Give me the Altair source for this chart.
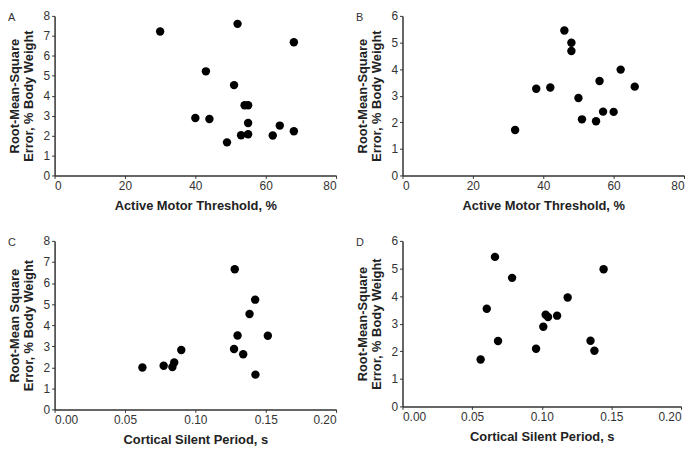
import altair as alt
import pandas as pd

# Panel A: Active Motor Threshold vs RMSE (0-8)
amt_a = [30, 52, 68, 43, 51, 54, 55, 40, 44, 55, 64, 68, 53, 55, 62, 49]
rmse_a = [7.22, 7.60, 6.68, 5.22, 4.53, 3.52, 3.52, 2.88, 2.83, 2.63, 2.50, 2.22, 2.02, 2.07, 2.00, 1.66]

# Panel B: Active Motor Threshold vs RMSE (0-6)
amt_b = [46, 48, 48, 62, 56, 38, 42, 66, 50, 57, 60, 51, 55, 32]
rmse_b = [5.45, 4.99, 4.68, 3.98, 3.55, 3.26, 3.31, 3.34, 2.91, 2.40, 2.39, 2.11, 2.04, 1.71]

# Panel C: Cortical Silent Period vs RMSE (0-8)
csp_c = [0.128, 0.1425, 0.1385, 0.130, 0.1515, 0.090, 0.1275, 0.134, 0.085, 0.0775, 0.0837, 0.0624, 0.1427]
rmse_c = [6.65, 5.21, 4.53, 3.51, 3.50, 2.82, 2.87, 2.62, 2.23, 2.07, 2.01, 1.99, 1.65]

# Panel D: Cortical Silent Period vs RMSE (0-6)
csp_d = [0.0664, 0.1444, 0.0787, 0.1186, 0.0605, 0.1028, 0.1045, 0.111, 0.1011, 0.0686, 0.135, 0.0959, 0.1378, 0.0561]
rmse_d = [5.42, 4.97, 4.66, 3.95, 3.54, 3.32, 3.24, 3.29, 2.89, 2.37, 2.38, 2.09, 2.02, 1.70]

amt_ticks = [0, 20, 40, 60, 80]
csp_ticks = [0.0, 0.05, 0.10, 0.15, 0.20]
y8_ticks = [0, 1, 2, 3, 4, 5, 6, 7, 8]
y6_ticks = [0, 1, 2, 3, 4, 5, 6]

FONT = "Liberation Sans"


def panel(xs, ys, xtitle, xdom, xticks, xfmt, ydom, yticks, ytitle, letter, w, h):
    df = pd.DataFrame({"x": xs, "y": ys})
    pts = alt.Chart(df).mark_circle(size=72, color="black", opacity=1).encode(
        x=alt.X("x:Q", scale=alt.Scale(domain=xdom, nice=False, zero=True),
                axis=alt.Axis(values=xticks, format=xfmt, title=xtitle)),
        y=alt.Y("y:Q", scale=alt.Scale(domain=ydom, nice=False, zero=True),
                axis=alt.Axis(values=yticks, format="d", title=ytitle)),
    )
    lab = alt.Chart(pd.DataFrame({"t": [letter]})).mark_text(
        align="left", baseline="middle", fontSize=11, color="#333", font=FONT
    ).encode(text="t:N", x=alt.value(-47), y=alt.value(2))
    return alt.layer(pts, lab).properties(width=w, height=h)


ytitle1 = ["Root-Mean-Square", "Error, % Body Weight"]
ytitle2 = ["Root-Mean Square", "Error, % Body Weight"]

A = panel(amt_a, rmse_a, "Active Motor Threshold, %", [0, 80], amt_ticks, "d",
          [0, 8], y8_ticks, ytitle1, "A", 284, 161)
B = panel(amt_b, rmse_b, "Active Motor Threshold, %", [0, 80], amt_ticks, "d",
          [0, 6], y6_ticks, ytitle1, "B", 284, 161)
C = panel(csp_c, rmse_c, "Cortical Silent Period, s", [0, 0.2], csp_ticks, ".2f",
          [0, 8], y8_ticks, ytitle2, "C", 284, 170)
D = panel(csp_d, rmse_d, "Cortical Silent Period, s", [0, 0.2], csp_ticks, ".2f",
          [0, 6], y6_ticks, ytitle1, "D", 281, 167)

chart = alt.vconcat(
    alt.hconcat(A, B, spacing=19),
    alt.hconcat(C, D, spacing=19),
    spacing=23,
).properties(
    padding={"left": 0, "top": 0, "right": 0, "bottom": 0}
).configure_view(stroke=None).configure_axis(
    grid=False,
    domainColor="#333",
    domainWidth=1.5,
    tickColor="#333",
    tickSize=3,
    labelColor="#333",
    labelFont=FONT,
    labelFontSize=12,
    labelPadding=2,
    titleFont=FONT,
    titleFontSize=13,
    titleFontWeight="bold",
    titleColor="#222",
    titleLineHeight=14,
    titlePadding=8,
)

chart.save("out.html", embed_options={"renderer": "svg", "actions": False})
